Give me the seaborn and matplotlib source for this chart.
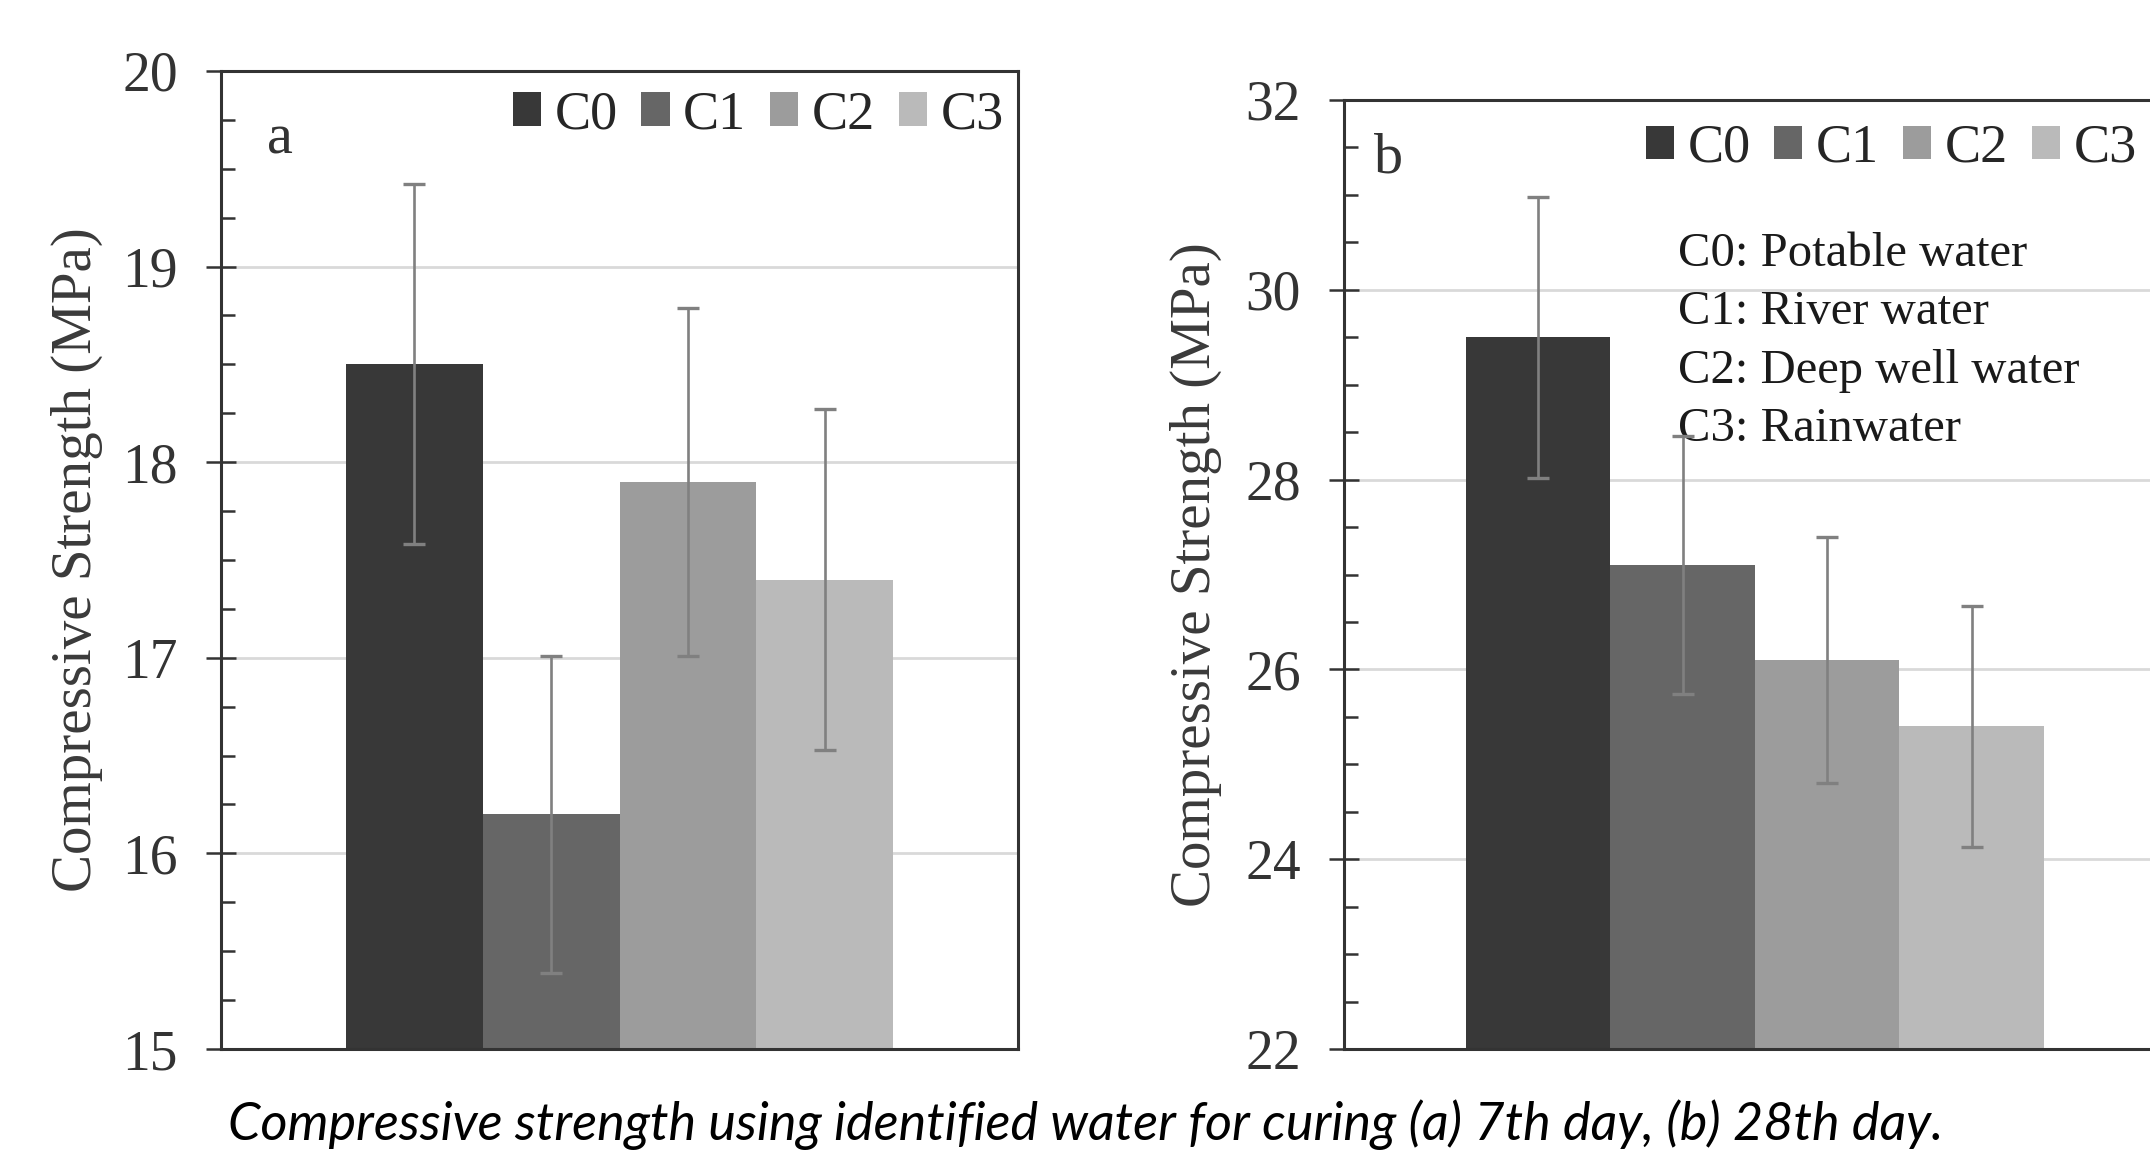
import pandas as pd
import matplotlib
matplotlib.use('Agg')
import matplotlib.pyplot as plt
import seaborn as sns

# Data
groups = ['C0', 'C1', 'C2', 'C3']
strength_7d = [18.5, 16.2, 17.9, 17.4]
err_7d = [0.92, 0.81, 0.89, 0.87]
strength_28d = [29.5, 27.1, 26.1, 25.4]
err_28d = [1.48, 1.36, 1.30, 1.27]
water_notes = ['C0: Potable water', 'C1: River water', 'C2: Deep well water', 'C3: Rainwater']
caption = 'Compressive strength using identified water for curing (a) 7th day, (b) 28th day.'

colors = ['#383838', '#666666', '#9c9c9c', '#bababa']
palette = dict(zip(groups, colors))

sns.set_style('white')
plt.rcParams['font.family'] = ['Liberation Serif', 'DejaVu Serif']
ink = '#333333'

fig = plt.figure(figsize=(21.5, 11.52), dpi=100)
ax_a = fig.add_axes([0.1028, 0.0894, 0.3707, 0.849])
ax_b = fig.add_axes([0.6251, 0.0894, 0.3823, 0.8238])


def draw_panel(ax, values, errs, width, ylim, major, minor, leg_anchor, letter, letter_pos):
    df = pd.DataFrame({'day': ['d'] * len(groups), 'group': groups, 'value': values})
    sns.barplot(data=df, x='day', y='value', hue='group', hue_order=groups,
                palette=palette, width=width, dodge=True, errorbar=None,
                linewidth=0, saturation=1, ax=ax)
    # error bars on top of each bar
    for cont, e, v in zip(ax.containers, errs, values):
        bar = cont.patches[0]
        xc = bar.get_x() + bar.get_width() / 2
        ax.errorbar(xc, v, yerr=e, color='#808080', lw=1.9, capsize=8, capthick=2.4, zorder=5)

    ax.set_xlim(-0.5, 0.5)
    ax.set_ylim(*ylim)
    ax.set_yticks(list(range(ylim[0], ylim[1] + 1, major)))
    ax.yaxis.set_minor_locator(plt.MultipleLocator(minor))
    ax.set_xticks([])
    ax.set_xlabel('')
    ax.set_ylabel('Compressive Strength (MPa)', fontsize=41, color='#3a3a3a')
    ax.yaxis.set_label_coords(-0.148, 0.5)
    ax.tick_params(axis='y', which='major', direction='inout', length=22, width=1.8,
                   color=ink, labelsize=40, labelcolor=ink, pad=20, left=True)
    ax.tick_params(axis='y', which='minor', direction='in', length=10, width=1.8,
                   color=ink, left=True)
    ax.yaxis.grid(True, which='major', color='#d9d9d9', lw=2)
    ax.set_axisbelow(True)
    for sp in ax.spines.values():
        sp.set_visible(True)
        sp.set_color(ink)
        sp.set_linewidth(2.2)

    sns.move_legend(ax, 'center left', bbox_to_anchor=leg_anchor, ncol=4, frameon=False,
                    fontsize=39, handlelength=0.52, handleheight=0.58, handletextpad=0.25,
                    columnspacing=0.44, borderaxespad=0, borderpad=0, title=None)
    ax.text(letter_pos[0], letter_pos[1], letter, transform=ax.transAxes,
            fontsize=42, color=ink, va='baseline')


draw_panel(ax_a, strength_7d, err_7d, 0.686, (15, 20), 1, 0.25, (0.366, 0.955), 'a', (0.058, 0.916))
draw_panel(ax_b, strength_28d, err_28d, 0.703, (22, 32), 2, 0.5, (0.367, 0.949), 'b', (0.036, 0.924))

for i, note in enumerate(water_notes):
    ax_b.text(0.406, 0.825 - i * 0.0615, note, transform=ax_b.transAxes,
              fontsize=35, color='#1a1a1a', va='baseline')

fig.text(0.505, 0.024, caption, ha='center', va='center', fontsize=37.5,
         family=['Lato', 'DejaVu Sans'], style='italic', color='black')

fig.savefig('out.png', dpi=100)
